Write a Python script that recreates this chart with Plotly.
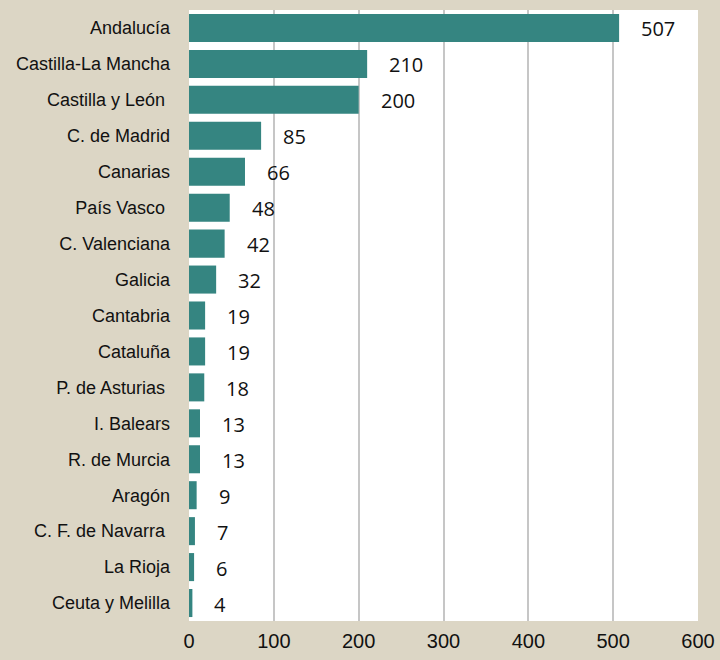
import plotly.graph_objects as go

regions = ["Andalucía", "Castilla-La Mancha", "Castilla y León ", "C. de Madrid", "Canarias",
           "País Vasco ", "C. Valenciana", "Galicia", "Cantabria", "Cataluña", "P. de Asturias ",
           "I. Balears", "R. de Murcia", "Aragón", "C. F. de Navarra ", "La Rioja", "Ceuta y Melilla"]
values = [507, 210, 200, 85, 66, 48, 42, 32, 19, 19, 18, 13, 13, 9, 7, 6, 4]
x_ticks = [0, 100, 200, 300, 400, 500, 600]

BG = "#dcd6c5"
BAR = "#358581"

fig = go.Figure()
fig.add_trace(go.Bar(
    x=values, y=regions, orientation="h",
    marker=dict(color=BAR, line=dict(width=0)),
    hoverinfo="x+y",
))

for v, r in zip(values, regions):
    fig.add_annotation(x=v, y=r, text=str(v), showarrow=False, xanchor="left",
                       xshift=20, yshift=-1,
                       font=dict(family="Open Sans, Noto Sans, sans-serif", size=20, color="#111"))

fig.update_layout(
    width=720, height=660,
    paper_bgcolor=BG, plot_bgcolor="white",
    margin=dict(l=189, r=22, t=10, b=39, autoexpand=False),
    bargap=0.22,
    showlegend=False,
    xaxis=dict(range=[0, 600], tickvals=x_ticks, showgrid=True, gridcolor="#c6c6c6", gridwidth=2,
               zeroline=False, showline=False, ticks="", automargin=False,
               tickfont=dict(family="Arial, Liberation Sans, sans-serif", size=20, color="#111"),
               ticklabelstandoff=6),
    yaxis=dict(autorange="reversed", showgrid=False, zeroline=False, showline=False, ticks="",
               automargin=False,
               tickfont=dict(family="Arial, Liberation Sans, sans-serif", size=18, color="#111"),
               ticklabelstandoff=18),
)

fig.write_html("out.html", config={"displayModeBar": False},
               post_script="document.body.style.margin='0';document.body.style.background='%s';" % BG)
